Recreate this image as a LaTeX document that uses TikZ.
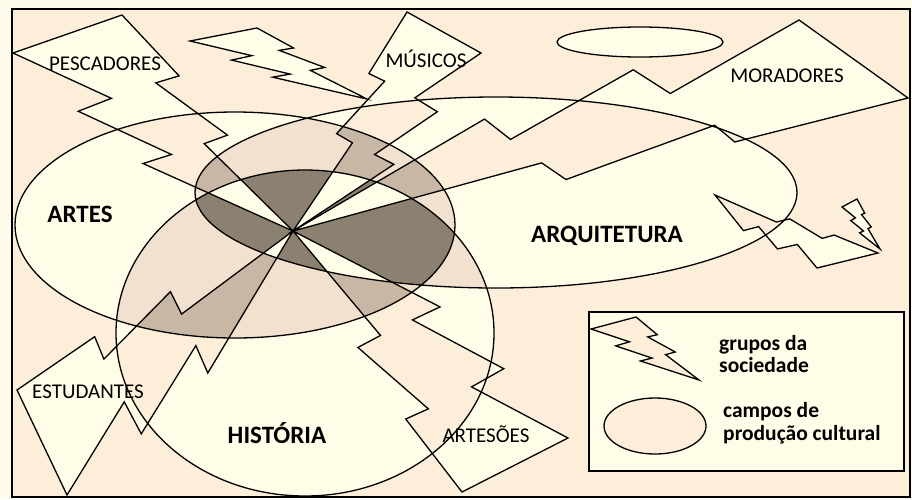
\documentclass[tikz,border=0pt]{standalone}
\usepackage{fontspec}
\setmainfont{Carlito}

\definecolor{paper}{RGB}{255,251,235}
\definecolor{peach}{RGB}{253,238,217}
\definecolor{cream}{RGB}{255,252,232}
\definecolor{beige}{RGB}{242,225,207}
\definecolor{taupe}{RGB}{200,183,164}
\definecolor{umber}{RGB}{140,128,112}

% the three fields
\newcommand{\artesfield}{(235,225) ellipse [x radius=220pt, y radius=113pt]}
\newcommand{\arqfield}{(496,192.5) ellipse [x radius=301pt, y radius=95.5pt]}
\newcommand{\histfield}{(305,333) ellipse [x radius=189pt, y radius=163pt]}

% lightning bolt, wide end #1 #2, tip #3
\newcommand{\boltpath}[3]{(#1)
  -- (barycentric cs:#1=0.7710,#2=-0.0640,#3=0.2930)
  -- (barycentric cs:#1=0.5678,#2=0.1433,#3=0.2889)
  -- (barycentric cs:#1=0.5052,#2=-0.0745,#3=0.5693)
  -- (barycentric cs:#1=0.2881,#2=0.1412,#3=0.5707)
  -- (#3)
  -- (barycentric cs:#1=-0.2599,#2=0.6944,#3=0.5655)
  -- (barycentric cs:#1=-0.0070,#2=0.4384,#3=0.5686)
  -- (barycentric cs:#1=-0.1566,#2=0.8627,#3=0.2939)
  -- (barycentric cs:#1=0.1607,#2=0.5504,#3=0.2889)
  -- (#2) -- cycle}

% shades by number of fields: none, one, two, three
\newcommand{\fieldlayers}[4]{%
  \fill[#1] (fnw) rectangle (fse);
  \fill[#2] \artesfield \arqfield \histfield;
  \begin{scope} \clip \artesfield; \fill[#3] \arqfield \histfield; \end{scope}
  \begin{scope} \clip \arqfield; \fill[#3] \histfield; \end{scope}
  \begin{scope} \clip \artesfield; \clip \arqfield; \fill[#4] \histfield; \end{scope}}

% inside a bolt the shades turn over
\newcommand{\groupbolt}[3]{%
  \begin{scope}
    \clip \boltpath{#1}{#2}{#3};
    \fieldlayers{cream}{peach}{taupe}{cream}
  \end{scope}}

\begin{document}
\begin{tikzpicture}[x=1pt,y=-1pt,
    outline/.style={draw=black,line width=1.3pt},
    fieldtag/.style={font=\fontsize{25}{29}\selectfont\bfseries,inner sep=0pt,anchor=base},
    grouptag/.style={font=\fontsize{21}{24}\selectfont,inner sep=0pt,anchor=base},
    keytag/.style={font=\fontsize{21.5}{25}\selectfont\bfseries,inner sep=0pt,anchor=base west}]
\useasboundingbox (0,0) rectangle (912,499);
\fill[paper] (0,0) rectangle (912,499);

\coordinate (fnw) at (12,9);
\coordinate (fse) at (910,497);
\coordinate (centre) at (293,231);

% groups of society
\coordinate (pescA) at (122,15);  \coordinate (pescB) at (13,53);
\coordinate (musA) at (407,12);   \coordinate (musB) at (481,53);
\coordinate (morA) at (908,98);   \coordinate (morB) at (799,20);
\coordinate (estA) at (17,390);   \coordinate (estB) at (67,495);
\coordinate (artA) at (462,492);  \coordinate (artB) at (568,438);
\coordinate (topA) at (257,28);   \coordinate (topB) at (190,41);
\coordinate (topT) at (367,99);
\coordinate (rgtA) at (878,253);  \coordinate (rgtB) at (817,268);
\coordinate (rgtT) at (715,195);
\coordinate (smlA) at (857,199);  \coordinate (smlB) at (842,207);
\coordinate (smlT) at (880,249);

\fieldlayers{peach}{cream}{beige}{umber}
\groupbolt{pescA}{pescB}{centre}
\groupbolt{musA}{musB}{centre}
\groupbolt{morA}{morB}{centre}
\groupbolt{estA}{estB}{centre}
\groupbolt{artA}{artB}{centre}
\groupbolt{topA}{topB}{topT}
\groupbolt{rgtA}{rgtB}{rgtT}
\groupbolt{smlA}{smlB}{smlT}

\filldraw[fill=cream,outline] (640,42) ellipse [x radius=83pt, y radius=15pt];

\draw[outline] \artesfield \arqfield \histfield;
\draw[outline] \boltpath{pescA}{pescB}{centre};
\draw[outline] \boltpath{musA}{musB}{centre};
\draw[outline] \boltpath{morA}{morB}{centre};
\draw[outline] \boltpath{estA}{estB}{centre};
\draw[outline] \boltpath{artA}{artB}{centre};
\draw[outline] \boltpath{topA}{topB}{topT};
\draw[outline] \boltpath{rgtA}{rgtB}{rgtT};
\draw[outline] \boltpath{smlA}{smlB}{smlT};

% legend
\filldraw[fill=cream,draw=black,line width=1.6pt] (589,312) rectangle (904,471);
\coordinate (keyA) at (636,317); \coordinate (keyB) at (591,329);
\coordinate (keyT) at (699,380);
\filldraw[fill=peach,outline] \boltpath{keyA}{keyB}{keyT};
\filldraw[fill=peach,outline] (655,426) ellipse [x radius=51pt, y radius=28pt];
\node[keytag] (key1) at (719,350) {grupos da};
\node[keytag] (key2) at (719,372) {sociedade};
\node[keytag] (key3) at (723,417) {campos de};
\node[keytag] (key4) at (723,440) {produção cultural};

\node[fieldtag] (artes) at (80,222) {ARTES};
\node[fieldtag] (arquitetura) at (607,242) {ARQUITETURA};
\node[fieldtag] (historia) at (277,443) {HISTÓRIA};

\node[grouptag] (pescadores) at (105,70) {PESCADORES};
\node[grouptag] (musicos) at (426,67) {MÚSICOS};
\node[grouptag] (moradores) at (787,82) {MORADORES};
\node[grouptag] (estudantes) at (88,398) {ESTUDANTES};
\node[grouptag] (artesoes) at (486,442) {ARTESÕES};

\draw[line width=1.8pt] (fnw) rectangle (fse);
\end{tikzpicture}
\end{document}
